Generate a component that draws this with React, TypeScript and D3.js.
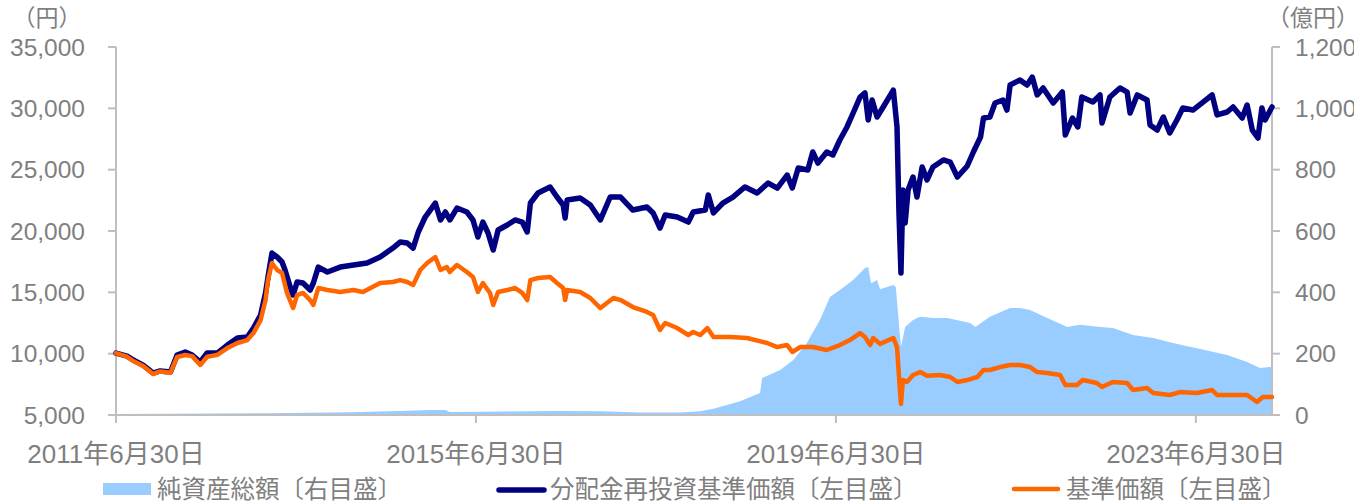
import React from "react";
import * as d3 from "d3";

// ---------- data ----------
const xTickDates = ["2011-06-30", "2015-06-30", "2019-06-30", "2023-06-30"];
const xTickLabels = ["2011年6月30日", "2015年6月30日", "2019年6月30日", "2023年6月30日"];
const xDomain = ["2011-06-30", "2024-05-04"];
const leftTicks = [5000, 10000, 15000, 20000, 25000, 30000, 35000];
const rightTicks = [0, 200, 400, 600, 800, 1000, 1200];
const leftUnit = "（円）";
const rightUnit = "（億円）";
const legendLabels = ["純資産総額〔右目盛〕", "分配金再投資基準価額〔左目盛〕", "基準価額〔左目盛〕"];

// 純資産総額 (億円, right axis)
const netAssets: [string, number][] = [
  ["2011-06-30", 3], ["2012-02-06", 4], ["2013-03-08", 6], ["2014-02-06", 9],
  ["2014-08-26", 13], ["2014-12-26", 16], ["2015-02-26", 16], ["2015-03-16", 10],
  ["2016-02-06", 12], ["2016-06-06", 13], ["2016-11-16", 12], ["2017-04-26", 8],
  ["2017-10-06", 8], ["2017-12-26", 12], ["2018-02-18", 20], ["2018-06-06", 45],
  ["2018-08-26", 72], ["2018-09-04", 121], ["2018-11-16", 147], ["2019-01-08", 179],
  ["2019-03-04", 235], ["2019-04-26", 310], ["2019-06-06", 385], ["2019-07-16", 408],
  ["2019-09-08", 440], ["2019-10-26", 479], ["2019-11-08", 483], ["2019-11-20", 430],
  ["2019-12-14", 440], ["2019-12-26", 410], ["2020-02-18", 424], ["2020-02-28", 417],
  ["2020-03-08", 333], ["2020-03-20", 222], ["2020-04-06", 287], ["2020-05-08", 310],
  ["2020-06-06", 320], ["2020-07-28", 316], ["2020-09-24", 316], ["2020-12-26", 300],
  ["2021-01-16", 287], ["2021-03-16", 320], ["2021-06-06", 349], ["2021-07-16", 349],
  ["2021-08-26", 342], ["2021-11-04", 316], ["2022-01-24", 287], ["2022-03-16", 294],
  ["2022-06-06", 287], ["2022-07-28", 284], ["2022-10-18", 261], ["2023-01-08", 251],
  ["2023-03-28", 235], ["2023-07-04", 218], ["2023-11-04", 196], ["2024-01-24", 173],
  ["2024-03-16", 153], ["2024-05-04", 157],
];

// 分配金再投資基準価額 (円, left axis)
const reinvestNav: [string, number][] = [
  ["2011-06-30", 10050], ["2011-08-14", 9800], ["2011-09-08", 9480], ["2011-10-18", 9070],
  ["2011-11-28", 8420], ["2011-12-26", 8590], ["2012-02-06", 8500], ["2012-03-04", 9890],
  ["2012-04-06", 10140], ["2012-05-04", 9890], ["2012-06-06", 9320], ["2012-07-04", 10050],
  ["2012-08-14", 10050], ["2012-09-24", 10700], ["2012-11-04", 11280], ["2012-12-14", 11360],
  ["2013-01-08", 12090], ["2013-02-06", 13150], ["2013-02-26", 14950], ["2013-03-08", 16250],
  ["2013-03-24", 18200], ["2013-04-14", 17880], ["2013-05-04", 17470], ["2013-05-16", 16820],
  ["2013-06-06", 15430], ["2013-06-18", 14780], ["2013-07-04", 15840], ["2013-07-28", 15760],
  ["2013-08-26", 15190], ["2013-09-08", 15760], ["2013-09-28", 17060], ["2013-11-04", 16660],
  ["2013-12-26", 17060], ["2014-02-18", 17230], ["2014-04-14", 17390], ["2014-06-06", 17880],
  ["2014-07-28", 18610], ["2014-08-26", 19100], ["2014-09-24", 19020], ["2014-10-18", 18600],
  ["2014-11-08", 19920], ["2014-12-06", 21140], ["2015-01-16", 22280], ["2015-02-06", 20900],
  ["2015-02-26", 21550], ["2015-03-16", 20900], ["2015-04-14", 21870], ["2015-05-24", 21550],
  ["2015-06-18", 20900], ["2015-07-08", 19510], ["2015-07-28", 20730], ["2015-08-18", 19840],
  ["2015-09-08", 18450], ["2015-09-28", 20080], ["2015-11-04", 20490], ["2015-12-06", 20900],
  ["2016-01-04", 20730], ["2016-01-24", 19920], ["2016-02-06", 22280], ["2016-03-08", 23100],
  ["2016-04-26", 23590], ["2016-05-24", 22770], ["2016-06-18", 22120], ["2016-06-26", 21060],
  ["2016-07-04", 22530], ["2016-08-26", 22690], ["2016-10-06", 22120], ["2016-11-16", 20900],
  ["2016-12-26", 22770], ["2017-02-06", 22770], ["2017-03-28", 21710], ["2017-05-24", 21960],
  ["2017-06-18", 21470], ["2017-07-16", 20240], ["2017-08-06", 21300], ["2017-09-24", 21140],
  ["2017-11-08", 20730], ["2017-11-28", 21550], ["2018-01-16", 21710], ["2018-01-28", 22930],
  ["2018-02-18", 21470], ["2018-03-28", 22280], ["2018-05-08", 22770], ["2018-06-26", 23590],
  ["2018-08-14", 23100], ["2018-09-28", 23910], ["2018-11-04", 23500], ["2018-12-14", 24560],
  ["2019-01-04", 23500], ["2019-01-28", 25140], ["2019-03-08", 24970], ["2019-03-28", 26440],
  ["2019-04-18", 25540], ["2019-05-24", 26440], ["2019-06-18", 26200], ["2019-07-16", 27420],
  ["2019-08-14", 28480], ["2019-09-08", 29620], ["2019-10-06", 30920], ["2019-10-26", 31250],
  ["2019-11-08", 29050], ["2019-11-24", 30680], ["2019-12-14", 29290], ["2020-01-08", 30110],
  ["2020-02-18", 31490], ["2020-03-04", 28480], ["2020-03-12", 21470], ["2020-03-20", 16580],
  ["2020-03-28", 23340], ["2020-04-06", 20650], ["2020-04-18", 23340], ["2020-05-08", 24400],
  ["2020-05-24", 22770], ["2020-06-14", 25220], ["2020-07-04", 24160], ["2020-07-28", 25220],
  ["2020-09-08", 25790], ["2020-10-06", 25620], ["2020-11-04", 24400], ["2020-12-14", 25300],
  ["2021-01-08", 26440], ["2021-02-06", 27660], ["2021-02-18", 29210], ["2021-03-16", 29290],
  ["2021-04-06", 30430], ["2021-05-08", 30680], ["2021-05-24", 29860], ["2021-06-06", 31900],
  ["2021-07-16", 32310], ["2021-08-14", 31900], ["2021-09-04", 32550], ["2021-09-24", 31090],
  ["2021-10-18", 31660], ["2021-11-28", 30430], ["2022-01-04", 31330], ["2022-01-16", 27830],
  ["2022-02-14", 29210], ["2022-03-08", 28480], ["2022-03-24", 30920], ["2022-05-08", 30520],
  ["2022-06-06", 31090], ["2022-06-14", 28800], ["2022-07-16", 30920], ["2022-08-26", 31660],
  ["2022-09-24", 31330], ["2022-10-06", 29620], ["2022-11-04", 31090], ["2022-12-14", 30680],
  ["2022-12-26", 28640], ["2023-01-24", 28230], ["2023-02-18", 29290], ["2023-03-16", 27990],
  ["2023-04-14", 29050], ["2023-05-08", 30030], ["2023-06-18", 29860], ["2023-07-24", 30430],
  ["2023-09-04", 31090], ["2023-09-24", 29460], ["2023-11-04", 29700], ["2023-11-28", 30110],
  ["2024-01-04", 29210], ["2024-01-24", 30270], ["2024-02-14", 28230], ["2024-03-08", 27580],
  ["2024-03-24", 30030], ["2024-04-06", 29050], ["2024-05-04", 30110],
];

// 基準価額 (円, left axis)
const nav: [string, number][] = [
  ["2011-06-30", 10050], ["2011-08-14", 9750], ["2011-09-08", 9400], ["2011-10-18", 9000],
  ["2011-11-28", 8350], ["2011-12-26", 8550], ["2012-02-06", 8450], ["2012-03-04", 9730],
  ["2012-04-06", 9890], ["2012-05-04", 9800], ["2012-06-06", 9080], ["2012-07-04", 9750],
  ["2012-08-14", 9900], ["2012-09-24", 10460], ["2012-11-04", 10870], ["2012-12-14", 11110],
  ["2013-01-08", 11680], ["2013-02-06", 12740], ["2013-02-26", 14370], ["2013-03-08", 16000],
  ["2013-03-24", 17390], ["2013-04-14", 16820], ["2013-05-04", 16580], ["2013-05-24", 14950],
  ["2013-06-18", 13720], ["2013-07-04", 14780], ["2013-07-28", 14950], ["2013-08-26", 14370],
  ["2013-09-08", 13970], ["2013-09-28", 15350], ["2013-11-04", 15190], ["2013-12-26", 15030],
  ["2014-02-18", 15190], ["2014-03-28", 15030], ["2014-06-06", 15760], ["2014-07-28", 15840],
  ["2014-08-26", 16000], ["2014-09-24", 15840], ["2014-10-18", 15600], ["2014-11-16", 16820],
  ["2014-12-14", 17390], ["2015-01-16", 17880], ["2015-02-06", 16820], ["2015-03-04", 17060],
  ["2015-03-16", 16660], ["2015-04-14", 17230], ["2015-05-24", 16660], ["2015-06-18", 16250],
  ["2015-07-08", 15030], ["2015-07-28", 15760], ["2015-08-26", 14950], ["2015-09-08", 13970],
  ["2015-09-28", 15030], ["2015-11-04", 15190], ["2015-12-06", 15350], ["2016-01-04", 14950],
  ["2016-01-24", 14370], ["2016-02-06", 16000], ["2016-03-08", 16170], ["2016-04-26", 16250],
  ["2016-05-24", 15760], ["2016-06-18", 15350], ["2016-06-26", 14370], ["2016-07-04", 15190],
  ["2016-08-26", 15030], ["2016-10-06", 14540], ["2016-11-16", 13720], ["2017-01-08", 14540],
  ["2017-02-06", 14370], ["2017-03-28", 13800], ["2017-05-24", 13400], ["2017-06-18", 13150],
  ["2017-07-16", 11930], ["2017-08-06", 12500], ["2017-09-24", 12090], ["2017-11-08", 11520],
  ["2017-11-28", 11770], ["2017-12-26", 11520], ["2018-01-24", 12090], ["2018-02-18", 11360],
  ["2018-04-26", 11360], ["2018-07-04", 11280], ["2018-09-24", 10870], ["2018-11-04", 10540],
  ["2018-12-14", 10700], ["2019-01-04", 10140], ["2019-02-06", 10540], ["2019-03-28", 10540],
  ["2019-05-24", 10300], ["2019-07-16", 10700], ["2019-08-26", 11110], ["2019-10-06", 11680],
  ["2019-10-26", 11360], ["2019-11-16", 10700], ["2019-11-28", 11280], ["2019-12-26", 10800],
  ["2020-02-18", 11280], ["2020-03-04", 10540], ["2020-03-12", 8200], ["2020-03-20", 5900],
  ["2020-03-28", 7850], ["2020-04-14", 7700], ["2020-05-08", 8260], ["2020-06-06", 8500],
  ["2020-07-04", 8200], ["2020-08-26", 8260], ["2020-10-06", 8100], ["2020-11-04", 7690],
  ["2020-12-14", 7850], ["2021-01-24", 8100], ["2021-02-18", 8670], ["2021-03-16", 8670],
  ["2021-04-26", 8910], ["2021-06-06", 9080], ["2021-07-16", 9080], ["2021-08-26", 8910],
  ["2021-09-24", 8500], ["2021-11-04", 8420], ["2021-12-26", 8260], ["2022-01-16", 7450],
  ["2022-03-04", 7450], ["2022-03-28", 7850], ["2022-05-24", 7610], ["2022-06-14", 7280],
  ["2022-07-28", 7690], ["2022-09-24", 7610], ["2022-10-18", 7040], ["2022-12-14", 7200],
  ["2023-01-08", 6790], ["2023-03-16", 6630], ["2023-04-26", 6870], ["2023-07-04", 6790],
  ["2023-09-04", 7040], ["2023-09-24", 6630], ["2023-11-28", 6630], ["2024-01-24", 6630],
  ["2024-03-04", 6060], ["2024-03-28", 6470], ["2024-05-04", 6470],
];

// ---------- styles ----------
const COLORS = { area: "#99CCFF", reinvest: "#000080", nav: "#FF6600", axis: "#BFBFBF", text: "#7F7F7F" };
const FONT = "'Liberation Sans', Arial, 'Noto Sans CJK JP', sans-serif";
const W = 1354;
const H = 501;
const M = { left: 116, right: 1272, top: 47, bottom: 415 };

const parse = d3.timeParse("%Y-%m-%d");

export default function App() {
  const x = d3.scaleTime().domain(xDomain.map((d) => parse(d) as Date)).range([M.left, M.right]);
  const yL = d3.scaleLinear().domain([5000, 35000]).range([M.bottom, M.top]);
  const yR = d3.scaleLinear().domain([0, 1200]).range([M.bottom, M.top]);

  const area = d3
    .area<[string, number]>()
    .x((d) => x(parse(d[0]) as Date))
    .y0(yR(0))
    .y1((d) => yR(d[1]));
  const lineL = d3
    .line<[string, number]>()
    .x((d) => x(parse(d[0]) as Date))
    .y((d) => yL(d[1]));

  const fmt = d3.format(",");

  return (
    <svg width={W} height={H} style={{ position: "absolute", left: 0, top: 0, background: "#fff" }} fontFamily={FONT}>
      <rect x={0} y={0} width={W} height={H} fill="#fff" />
      {/* area */}
      <path d={area(netAssets) || ""} fill={COLORS.area} stroke="none" />

      {/* axes */}
      <g stroke={COLORS.axis} strokeWidth={2} fill="none">
        <line x1={M.left} x2={M.left} y1={M.top} y2={M.bottom} />
        <line x1={M.right} x2={M.right} y1={M.top} y2={M.bottom} />
        <line x1={M.left} x2={M.right} y1={M.bottom} y2={M.bottom} />
        {leftTicks.map((t) => (
          <line key={"lt" + t} x1={M.left - 8} x2={M.left} y1={yL(t)} y2={yL(t)} />
        ))}
        {rightTicks.map((t) => (
          <line key={"rt" + t} x1={M.right} x2={M.right + 8} y1={yR(t)} y2={yR(t)} />
        ))}
        {xTickDates.map((d) => {
          const px = x(parse(d) as Date);
          return <line key={"xt" + d} x1={px} x2={px} y1={M.bottom} y2={M.bottom + 8} />;
        })}
      </g>

      {/* lines */}
      <path d={lineL(reinvestNav) || ""} fill="none" stroke={COLORS.reinvest} strokeWidth={5.5} strokeLinejoin="round" strokeLinecap="round" />
      <path d={lineL(nav) || ""} fill="none" stroke={COLORS.nav} strokeWidth={4.5} strokeLinejoin="round" strokeLinecap="round" />

      {/* tick labels */}
      <g fill={COLORS.text} fontSize={24.5}>
        {leftTicks.map((t) => (
          <text key={"ll" + t} x={85} y={yL(t)} textAnchor="end" dominantBaseline="central">
            {fmt(t)}
          </text>
        ))}
        {rightTicks.map((t) => (
          <text key={"rl" + t} x={1295} y={yR(t)} textAnchor="start" dominantBaseline="central">
            {fmt(t)}
          </text>
        ))}
      </g>
      <g fill={COLORS.text} fontSize={26}>
        {xTickDates.map((d, i) => (
          <text key={"xl" + d} x={x(parse(d) as Date)} y={463} textAnchor="middle">
            {xTickLabels[i]}
          </text>
        ))}
      </g>

      {/* units */}
      <g fill={COLORS.text} fontSize={23}>
        <text x={47} y={18} textAnchor="middle" dominantBaseline="central">{leftUnit}</text>
        <text x={1313} y={18} textAnchor="middle" dominantBaseline="central">{rightUnit}</text>
      </g>

      {/* legend */}
      <g fontSize={24.5} fill={COLORS.text}>
        <rect x={103} y={483} width={48} height={12} fill={COLORS.area} />
        <text x={157} y={489} dominantBaseline="central">{legendLabels[0]}</text>
        <line x1={499} x2={544} y1={490} y2={490} stroke={COLORS.reinvest} strokeWidth={5.5} strokeLinecap="round" />
        <text x={550} y={489} dominantBaseline="central">{legendLabels[1]}</text>
        <line x1={1014} x2={1058} y1={489} y2={489} stroke={COLORS.nav} strokeWidth={4.5} strokeLinecap="round" />
        <text x={1066} y={489} dominantBaseline="central">{legendLabels[2]}</text>
      </g>
    </svg>
  );
}
